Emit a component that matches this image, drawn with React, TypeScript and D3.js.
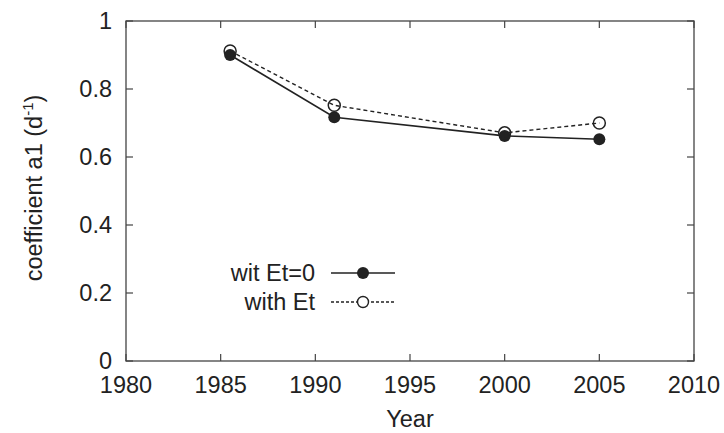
import React from "react";
import * as d3 from "d3";

const years = [1985.5, 1991, 2000, 2005];
const witEt0 = [0.9, 0.717, 0.662, 0.652];
const withEt = [0.912, 0.752, 0.671, 0.7];
const xTicks = [1980, 1985, 1990, 1995, 2000, 2005, 2010];
const yTicks = [0, 0.2, 0.4, 0.6, 0.8, 1];
const seriesNames = ["wit Et=0", "with Et"];

const W = 724, H = 433;
const M = { left: 126, right: 30, top: 21, bottom: 72 };

export default function App() {
  const x = d3.scaleLinear().domain([1980, 2010]).range([M.left, W - M.right]);
  const y = d3.scaleLinear().domain([0, 1]).range([H - M.bottom, M.top]);
  const line = d3.line<number>().x((_, i) => x(years[i])).y((d) => y(d));
  const col = "#222";
  const font = "'Liberation Sans', Arial, Helvetica, sans-serif";
  const fs = 23.5;
  const x0 = x(1980), x1 = x(2010), y0 = y(0), y1 = y(1);
  const tl = 7;
  const legX = 315, legY = [273, 302];
  return (
    <svg width={W} height={H} style={{ position: "absolute", left: 0, top: 0, background: "#fff" }}>
      <rect x={x0} y={y1} width={x1 - x0} height={y0 - y1} fill="none" stroke="#444" strokeWidth={1.3} />
      {xTicks.map((t) => (
        <g key={"x" + t}>
          <line x1={x(t)} x2={x(t)} y1={y0} y2={y0 - tl} stroke="#444" strokeWidth={1.2} />
          <line x1={x(t)} x2={x(t)} y1={y1} y2={y1 + tl} stroke="#444" strokeWidth={1.2} />
          <text x={x(t)} y={393} textAnchor="middle" fontFamily={font} fontSize={fs} fill={col}>{t}</text>
        </g>
      ))}
      {yTicks.map((t) => (
        <g key={"y" + t}>
          <line x1={x0} x2={x0 + tl} y1={y(t)} y2={y(t)} stroke="#444" strokeWidth={1.2} />
          <line x1={x1} x2={x1 - tl} y1={y(t)} y2={y(t)} stroke="#444" strokeWidth={1.2} />
          <text x={112} y={y(t) + 7.5} textAnchor="end" fontFamily={font} fontSize={fs} fill={col}>{String(t)}</text>
        </g>
      ))}
      <text x={(x0 + x1) / 2} y={427} textAnchor="middle" fontFamily={font} fontSize={fs} fill={col}>Year</text>
      <text transform={`translate(42,188) rotate(-90)`} textAnchor="middle" fontFamily={font} fontSize={fs} fill={col}>
        coefficient a1 (d<tspan dy={-9} fontSize={15}>-1</tspan><tspan dy={9}>)</tspan>
      </text>
      <path d={line(withEt) || ""} fill="none" stroke={col} strokeWidth={1.4} strokeDasharray="4,3" />
      <path d={line(witEt0) || ""} fill="none" stroke={col} strokeWidth={1.6} />
      {witEt0.map((v, i) => (
        <circle key={"f" + i} cx={x(years[i])} cy={y(v)} r={6} fill={col} />
      ))}
      {withEt.map((v, i) => (
        <circle key={"o" + i} cx={x(years[i])} cy={y(v)} r={6} fill="none" stroke={col} strokeWidth={1.5} />
      ))}
      <text x={legX} y={legY[0] + 8} textAnchor="end" fontFamily={font} fontSize={fs} fill={col}>{seriesNames[0]}</text>
      <line x1={331} x2={395} y1={legY[0]} y2={legY[0]} stroke={col} strokeWidth={1.6} />
      <circle cx={363} cy={legY[0]} r={6} fill={col} />
      <text x={legX} y={legY[1] + 8} textAnchor="end" fontFamily={font} fontSize={fs} fill={col}>{seriesNames[1]}</text>
      <line x1={331} x2={395} y1={legY[1]} y2={legY[1]} stroke={col} strokeWidth={1.3} strokeDasharray="3,2" />
      <circle cx={363} cy={legY[1]} r={5.5} fill="#fff" stroke={col} strokeWidth={1.4} />
    </svg>
  );
}
